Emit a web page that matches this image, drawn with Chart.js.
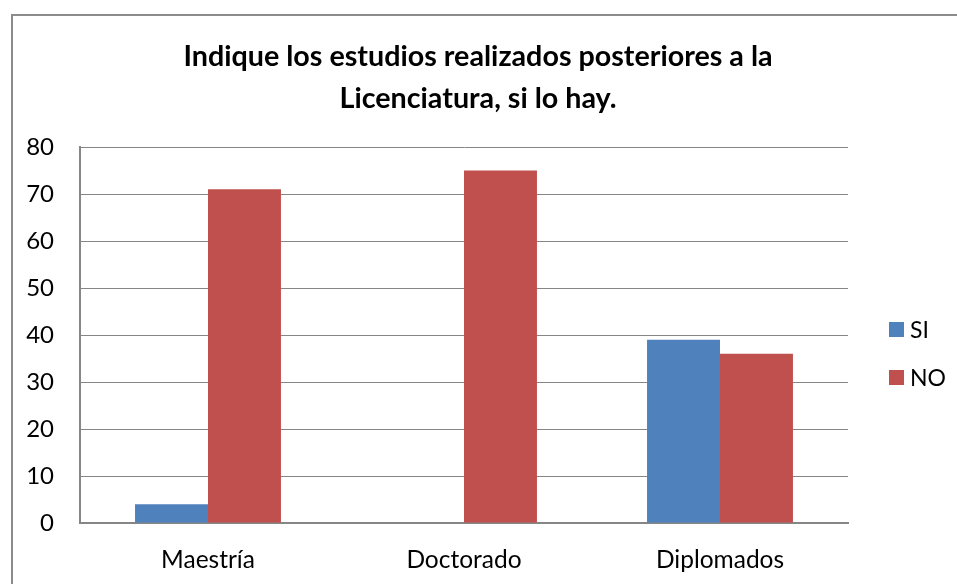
<!DOCTYPE html>
<html><head><meta charset="utf-8">
<script src="https://cdn.jsdelivr.net/npm/chart.js@4"></script>
<style>
html,body{margin:0;padding:0;background:#fff;overflow:hidden;}
#frame{position:absolute;left:11px;top:14px;width:1000px;height:700px;border:2px solid #8c8c8c;box-sizing:border-box;}
#wrap{position:absolute;left:0;top:0;width:957px;height:584px;}
</style></head>
<body>
<div id="frame"></div>
<div id="wrap"><canvas id="c" width="957" height="584"></canvas></div>
<script>
const categories = ["Maestría", "Doctorado", "Diplomados"];
const siValues = [4, 0, 39];
const noValues = [71, 75, 36];
const seriesNames = ["SI", "NO"];
const yTicks = [0, 10, 20, 30, 40, 50, 60, 70, 80];
const titleLines = ["Indique los estudios realizados posteriores a la", "Licenciatura, si lo hay."];

const FONT = "Lato, 'Open Sans', sans-serif";
const gridColor = "#868686";

const titleLegendPlugin = {
  id: "titleLegend",
  afterDraw(chart) {
    const ctx = chart.ctx;
    ctx.save();
    ctx.fillStyle = "#000";
    ctx.font = "bold 28.7px " + FONT;
    ctx.textAlign = "center";
    ctx.textBaseline = "middle";
    const ty = [57, 99];
    titleLines.forEach((t, i) => ctx.fillText(t, 478, ty[i]));
    const x0 = 889, ys = [329.5, 377.5];
    chart.data.datasets.forEach((ds, i) => {
      ctx.fillStyle = ds.backgroundColor;
      ctx.fillRect(x0, ys[i] - 7.5, 15, 15);
      ctx.fillStyle = "#000";
      ctx.font = "23px " + FONT;
      ctx.textBaseline = "middle";
      ctx.textAlign = "left";
      ctx.fillText(ds.label, x0 + 21, ys[i] + 1);
    });
    ctx.restore();
  }
};

new Chart(document.getElementById("c"), {
  type: "bar",
  data: {
    labels: categories,
    datasets: [
      { label: seriesNames[0], data: siValues, backgroundColor: "#4F81BD" },
      { label: seriesNames[1], data: noValues, backgroundColor: "#C0504D" }
    ]
  },
  options: {
    responsive: false,
    animation: false,
    devicePixelRatio: 1,
    layout: { padding: { left: 0, right: 109, top: 147, bottom: 0 } },
    datasets: { bar: { barPercentage: 1.0, categoryPercentage: 0.57 } },
    plugins: {
      legend: { display: false },
      tooltip: { enabled: false },
      title: { display: false }
    },
    scales: {
      x: {
        grid: { display: false, drawTicks: false },
        border: { display: true, color: gridColor, width: 2 },
        ticks: { color: "#000", font: { family: FONT, size: 24.5 }, padding: 22 },
        afterFit(s) { s.height = 61; }
      },
      y: {
        min: 0, max: 80,
        afterBuildTicks(s) { s.ticks = yTicks.map(v => ({ value: v })); },
        grid: { color: gridColor, lineWidth: 1, drawTicks: false },
        border: { display: true, color: gridColor, width: 2 },
        ticks: { color: "#000", font: { family: FONT, size: 24 }, padding: 26 },
        afterFit(s) { s.width = 80; }
      }
    }
  },
  plugins: [titleLegendPlugin]
});
</script>
</body></html>
